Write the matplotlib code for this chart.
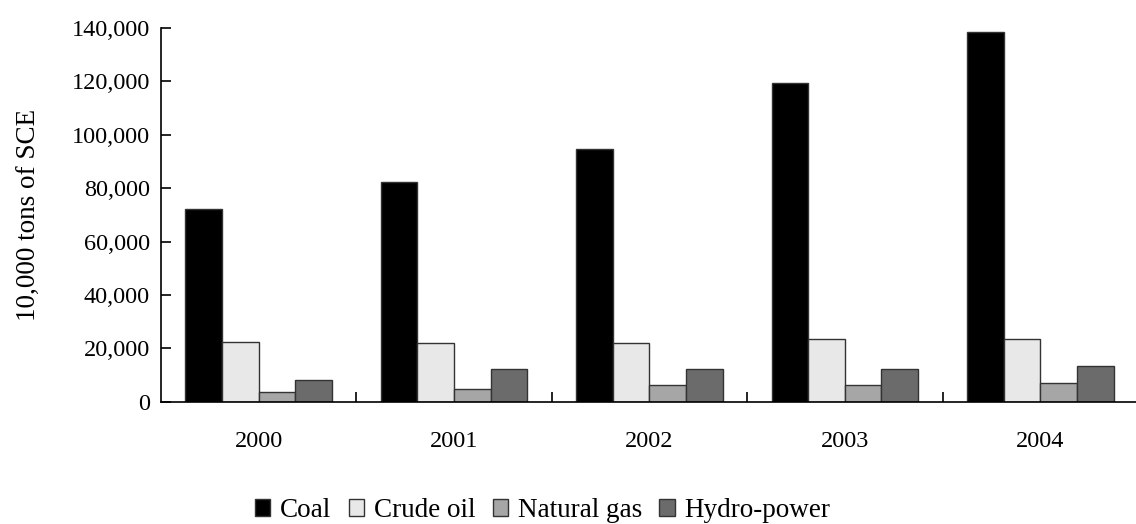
import numpy as np
import matplotlib
matplotlib.use("Agg")
import matplotlib.pyplot as plt
from matplotlib.patches import Patch
from matplotlib.ticker import FuncFormatter

''' energy production by source, 2000-2004 '''

years = ['2000', '2001', '2002', '2003', '2004']
coal = [72200, 82200, 94700, 119400, 138600]
crude = [22200, 22100, 22100, 23400, 23400]
gas = [3500, 4600, 6100, 6100, 7100]
hydro = [8200, 12200, 12200, 12100, 13500]

series = [coal, crude, gas, hydro]
names = ['Coal', 'Crude oil', 'Natural gas', 'Hydro-power']
colors = ['#000000', '#e8e8e8', '#a6a6a6', '#6b6b6b']

plt.rcParams['font.family'] = ['Liberation Serif', 'DejaVu Serif']

fig = plt.figure(figsize=(11.36, 5.24), dpi=100)
ax = fig.add_axes([0.1417, 0.2334, 0.8600, 0.7132])

x = np.arange(len(years))
w = 0.1875
for k in range(len(series)):
    ax.bar(x + (k - 1.5)*w, series[k], w, color=colors[k],
           edgecolor='#333333', linewidth=1.0, label=names[k])

ax.set_xlim(-0.5, 4.5)
ax.set_ylim(0, 140000)
ax.set_yticks(np.arange(0, 140001, 20000))
ax.yaxis.set_major_formatter(FuncFormatter(lambda v, p: '{:,.0f}'.format(v)))

ax.set_xticks(x)
ax.set_xticklabels(years)
ax.set_xticks(np.arange(0.5, 4.5, 1.0), minor=True)
ax.tick_params(axis='x', which='major', length=0, pad=21, labelsize=17.5)
ax.tick_params(axis='x', which='minor', direction='in', length=7, width=1.2)
ax.tick_params(axis='y', direction='in', length=7, width=1.2, pad=8, labelsize=17.5)

ax.spines['top'].set_visible(False)
ax.spines['right'].set_visible(False)
ax.spines['left'].set_linewidth(1.2)
ax.spines['bottom'].set_linewidth(1.2)

ax.set_ylabel('10,000 tons of SCE', fontsize=19.5, labelpad=21)

handles = [Patch(facecolor=colors[k], edgecolor='#333333', linewidth=1.0) for k in range(4)]
fig.legend(handles, names, loc='center', bbox_to_anchor=(0.4776, 0.026),
           ncol=4, frameon=False, fontsize=19.5, handlelength=0.57, handleheight=0.57,
           handletextpad=0.35, columnspacing=0.65, borderpad=0)

plt.savefig('out.png', dpi=100)
